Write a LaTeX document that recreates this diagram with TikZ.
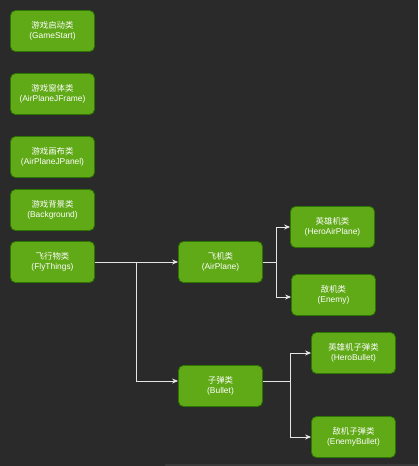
\documentclass[tikz,border=0pt]{standalone}
\usepackage{fontspec}
\setmainfont{Liberation Sans}
\newfontfamily\cjk{Noto Sans CJK SC}
\usepackage{tikz}
\usetikzlibrary{arrows.meta, calc, positioning}
\definecolor{bgdark}{HTML}{2A2A2A}
\definecolor{boxgreen}{HTML}{60A917}
\definecolor{boxedge}{HTML}{2D7600}
\newcommand{\clstext}[2]{{\cjk #1}\\(#2)}

\begin{document}
\begin{tikzpicture}[x=1pt, y=-1pt,
    classbox/.style={draw=boxedge, fill=boxgreen, rounded corners=5pt, line width=0.8pt,
        minimum width=84pt, minimum height=41pt, align=center, text=white,
        font=\fontsize{8.4}{9.6}\selectfont, inner sep=1pt},
    link/.style={draw=white!90!black, line width=1pt, -{Stealth[length=6pt, width=5pt]}},
    trunk/.style={draw=white!90!black, line width=1pt}]
    \fill[bgdark] (0,0) rectangle (418,466);
    \useasboundingbox (0,0) rectangle (418,466);
    \fill[gray!45!black] (165,464) rectangle (418,466);

    \node[classbox] (gameStart) at (52.5,31) {\clstext{游戏启动类}{GameStart}};
    \node[classbox] (jFrame) at (52.5,94) {\clstext{游戏窗体类}{AirPlaneJFrame}};
    \node[classbox] (jPanel) at (52.5,157) {\clstext{游戏画布类}{AirPlaneJPanel}};
    \node[classbox] (background) at (52.5,210) {\clstext{游戏背景类}{Background}};
    \node[classbox] (flyThings) at (52.5,262) {\clstext{飞行物类}{FlyThings}};
    \node[classbox] (airPlane) at (220.5,262) {\clstext{飞机类}{AirPlane}};
    \node[classbox] (bullet) at (220.5,386) {\clstext{子弹类}{Bullet}};
    \node[classbox] (heroPlane) at (332.5,227) {\clstext{英雄机类}{HeroAirPlane}};
    \node[classbox] (enemy) at (333.5,295) {\clstext{敌机类}{Enemy}};
    \node[classbox] (heroBullet) at (353.5,353) {\clstext{英雄机子弹类}{HeroBullet}};
    \node[classbox] (enemyBullet) at (353.5,437) {\clstext{敌机子弹类}{EnemyBullet}};

    \coordinate (splitFly) at (136,262);
    \coordinate (splitPlane) at (276,262);
    \coordinate (bulletOut) at ($(bullet.east)+(0,-5)$);
    \coordinate (splitBullet) at (290,381);

    \draw[link] (flyThings.east) -- (airPlane.west);
    \draw[link] (splitFly) |- ($(bullet.west)+(0,-5)$);
    \draw[trunk] (airPlane.east) -- (splitPlane);
    \draw[link] (splitPlane) |- (heroPlane.west);
    \draw[link] (splitPlane) |- ($(enemy.west)+(0,2)$);
    \draw[trunk] (bulletOut) -- (splitBullet);
    \draw[link] (splitBullet) |- (heroBullet.west);
    \draw[link] (splitBullet) |- (enemyBullet.west);
\end{tikzpicture}
\end{document}
